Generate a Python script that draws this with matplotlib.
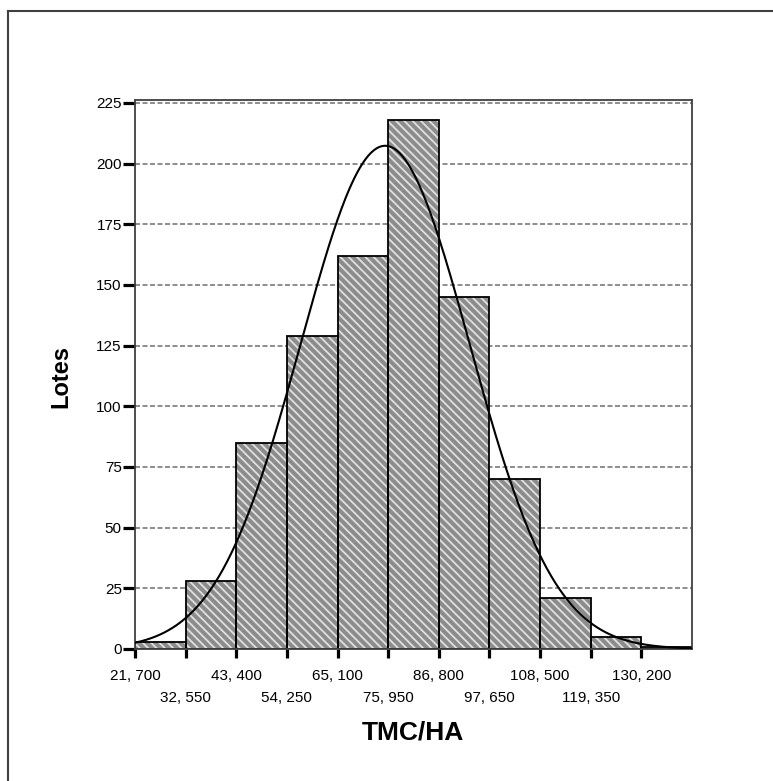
import numpy as np
import matplotlib.pyplot as plt
from matplotlib.lines import Line2D

plt.rcParams['font.family'] = ['Liberation Sans', 'DejaVu Sans']
plt.rcParams['hatch.linewidth'] = 1.3

# Histogram data (TMC/HA bins, count of lots)
bin_start = 21700
bin_width = 10850
counts = [3, 28, 85, 129, 162, 218, 145, 70, 21, 5, 1]
tick_values = [21700, 32550, 43400, 54250, 65100, 75950, 86800, 97650, 108500, 119350, 130200]
tick_labels = ['21, 700', '32, 550', '43, 400', '54, 250', '65, 100', '75, 950',
               '86, 800', '97, 650', '108, 500', '119, 350', '130, 200']
y_ticks = [0, 25, 50, 75, 100, 125, 150, 175, 200, 225]

# normal curve parameters
mean = 75300
std = 18100

edges = bin_start + bin_width * np.arange(len(counts))
x_max = bin_start + bin_width * len(counts)

fig = plt.figure(figsize=(7.73, 7.81), dpi=100)
ax = fig.add_axes([135 / 773, 1 - 649 / 781, (692 - 135) / 773, (649 - 100) / 781])

# grid lines behind the bars
for v in y_ticks[1:]:
    ax.axhline(v, color='#7a7a7a', linestyle=(0, (3, 1.5)), linewidth=1.2, zorder=0)

# hatched fill, then black outlines
ax.bar(edges, counts, width=bin_width, align='edge', facecolor='#8c8c8c',
       hatch='\\\\\\\\', edgecolor='#e0e0e0', linewidth=0, zorder=1)
ax.bar(edges, counts, width=bin_width, align='edge', fill=False,
       edgecolor='black', linewidth=1.3, zorder=2)

# normal curve
n = sum(counts)
xs = np.linspace(bin_start, x_max, 400)
ys = n * bin_width / (std * np.sqrt(2 * np.pi)) * np.exp(-0.5 * ((xs - mean) / std) ** 2)
ax.plot(xs, ys, color='black', linewidth=1.5, zorder=3)

ax.set_xlim(bin_start, x_max)
ax.set_ylim(0, 226.2)

ax.set_yticks(y_ticks)
ax.set_yticklabels([str(v) for v in y_ticks], fontsize=11)

# staggered x labels: first row on major ticks, second row on minor ticks
ax.set_xticks(tick_values[0::2])
ax.set_xticklabels(tick_labels[0::2], fontsize=11)
ax.set_xticks(tick_values[1::2], minor=True)
ax.set_xticklabels(tick_labels[1::2], minor=True, fontsize=11)

ax.tick_params(axis='y', direction='out', length=8.5, width=2.3, color='black', pad=1)
ax.tick_params(axis='x', which='major', direction='out', length=6.5, width=2.3,
               color='black', pad=8)
ax.tick_params(axis='x', which='minor', direction='out', length=6.5, width=2.3,
               color='black', pad=23.5)

for s in ax.spines.values():
    s.set_color('#404040')
    s.set_linewidth(1.3)

fig.text(61 / 773, 1 - 377 / 781, 'Lotes', rotation=90, fontsize=17, fontweight='bold',
         ha='center', va='center')
fig.text(413 / 773, 1 - 732 / 781, 'TMC/HA', fontsize=19, fontweight='bold',
         ha='center', va='center')

# outer frame (left and top edges)
fig.add_artist(Line2D([8 / 773, 8 / 773], [0, 1 - 11 / 781], transform=fig.transFigure,
                      color='#404040', linewidth=1.5))
fig.add_artist(Line2D([8 / 773, 1], [1 - 11 / 781, 1 - 11 / 781], transform=fig.transFigure,
                      color='#404040', linewidth=1.5))

plt.savefig('out.png', dpi=100)
